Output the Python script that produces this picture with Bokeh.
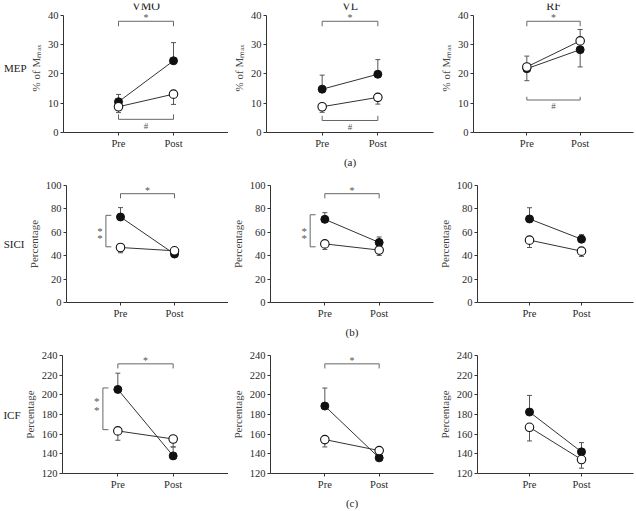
from bokeh.plotting import figure
from bokeh.models import FixedTicker, Range1d, LinearAxis
from bokeh.layouts import column, row
from bokeh.embed import file_html
from bokeh.resources import INLINE
from bokeh.core.properties import value

FONT = "Liberation Serif"

muscles = ["VMO", "VL", "RF"]
measures = ["MEP", "SICI", "ICF"]
panel_tags = ["(a)", "(b)", "(c)"]
x_pos = [0, 1]
x_labels = ["Pre", "Post"]

y_ticks = [[0, 10, 20, 30, 40],
           [0, 20, 40, 60, 80, 100],
           [120, 140, 160, 180, 200, 220, 240]]
y_titles = ["% of Mₘₐₓ", "Percentage", "Percentage"]

# filled circles (mean) and signed one-sided error (+ up, - down), per muscle
mep_filled = [[10.5, 24.5], [14.8, 19.9], [21.8, 28.3]]
mep_filled_err = [[2.5, 6.2], [4.8, 5.0], [-4.1, -5.9]]
mep_open = [[8.8, 13.1], [8.8, 12.0], [22.4, 31.3]]
mep_open_err = [[-2.0, -3.5], [-1.9, -2.3], [3.7, 3.9]]

sici_filled = [[73.1, 41.4], [71.1, 51.3], [71.4, 54.1]]
sici_filled_err = [[8.0, -1.5], [5.7, 4.7], [9.6, 3.9]]
sici_open = [[47.0, 44.2], [50.1, 44.8], [53.3, 43.9]]
sici_open_err = [[-4.5, -2.0], [-4.8, -4.6], [-6.3, -4.5]]

icf_filled = [[205.5, 137.9], [188.6, 135.9], [182.5, 142.0]]
icf_filled_err = [[16.5, 9.0], [18.3, -2.0], [16.9, 9.4]]
icf_open = [[163.3, 155.1], [154.5, 143.3], [167.0, 134.2]]
icf_open_err = [[-9.5, -8.0], [-7.5, -2.0], [-13.9, -8.8]]

# "*" brackets between Pre and Post (row, col, bar level, tick end, star level)
star_row = [0, 0, 0, 1, 1, 2, 2]
star_col = [0, 1, 2, 0, 1, 0, 1]
star_bar_y = [38.0, 38.0, 38.0, 93.0, 93.0, 231.5, 231.5]
star_tick_y = [36.3, 36.3, 36.3, 89.0, 89.0, 226.8, 226.8]
star_text_y = [39.4, 39.4, 39.4, 95.5, 95.5, 235.0, 235.0]

# "#" brackets under MEP panels
hash_col = [0, 1, 2]
hash_bar_y = [4.5, 4.1, 11.1]
hash_tick_y = [6.2, 5.7, 12.2]
hash_text_y = [2.3, 2.0, 9.1]

# "**" side brackets at Pre (between groups)
side_row = [1, 1, 2]
side_col = [0, 1, 0]
side_top = [74.5, 75.0, 207.0]
side_bottom = [47.6, 47.6, 164.6]
side_star_y1 = [61.5, 61.5, 193.5]
side_star_y2 = [55.0, 55.0, 185.0]

means = [(mep_filled, mep_filled_err, mep_open, mep_open_err),
         (sici_filled, sici_filled_err, sici_open, sici_open_err),
         (icf_filled, icf_filled_err, icf_open, icf_open_err)]

COL_W = [228, 207, 201]
COL_BL = [62, 38, 38]
COL_BR = [0, 2, 3]
ROW_H = [170, 170, 171]
ROW_BT = [3, 15, 15]
ROW_FH = [130, 118, 118]
ROW_TOP = [44.07, 100, 240]


def txt(p, xs, ys, texts, size="11px", color="#222222", align="center", baseline="middle"):
    p.text(x=xs, y=ys, text=texts, text_font=value(FONT), text_font_size=value(size),
           text_color=color, text_align=align, text_baseline=baseline)


def err_bars(p, xs, ys, es, color="#555555"):
    x0, y0, y1 = [], [], []
    for x, y, e in zip(xs, ys, es):
        x0.append(x); y0.append(y); y1.append(y + e)
    p.segment(x0=x0, y0=y0, x1=x0, y1=y1, line_color=color, line_width=1)
    p.scatter(x=x0, y=y1, marker="dash", size=5, line_color=color, line_width=1)


def style_axis(ax):
    ax.axis_line_color = "#333333"
    ax.major_tick_line_color = "#333333"
    ax.major_tick_out = 3
    ax.major_tick_in = 0
    ax.minor_tick_line_color = None
    ax.major_label_text_font = FONT
    ax.major_label_text_font_size = "10.5px"
    ax.major_label_text_font_style = "normal"
    ax.major_label_text_color = "#2a2a2a"
    ax.major_label_standoff = 2
    ax.axis_label_text_font = FONT
    ax.axis_label_text_font_size = "11px"
    ax.axis_label_text_font_style = "normal"
    ax.axis_label_text_color = "#444444"
    ax.axis_label_standoff = 3


def make_panel(r, c):
    lo = y_ticks[r][0]
    hi = ROW_TOP[r]
    bb = ROW_H[r] - ROW_BT[r] - ROW_FH[r]
    p = figure(width=COL_W[c], height=ROW_H[r], x_range=Range1d(-1, 2),
               y_range=Range1d(lo, hi),
               output_backend="svg", toolbar_location=None,
               min_border_left=COL_BL[c], min_border_right=COL_BR[c],
               min_border_top=ROW_BT[r], min_border_bottom=bb)
    p.outline_line_color = None
    p.grid.visible = False
    p.background_fill_color = "white"
    p.border_fill_color = "white"

    p.xaxis.ticker = FixedTicker(ticks=x_pos)
    p.xaxis.major_label_overrides = {x_pos[i]: x_labels[i] for i in range(2)}
    p.yaxis.ticker = FixedTicker(ticks=y_ticks[r])
    p.yaxis.bounds = (y_ticks[r][0], y_ticks[r][-1])
    p.yaxis.axis_label = y_titles[r]
    style_axis(p.xaxis[0])
    style_axis(p.yaxis[0])
    if c == 1:
        p.xaxis.axis_label = panel_tags[r]
        p.xaxis.axis_label_text_color = "#222222"
        p.xaxis.axis_label_standoff = 4
    if c == 0:
        ax2 = LinearAxis(axis_label=measures[r], ticker=FixedTicker(ticks=[]),
                         bounds=(y_ticks[r][0], y_ticks[r][-1]),
                         axis_line_color=None, major_tick_line_color=None,
                         minor_tick_line_color=None,
                         axis_label_orientation="horizontal")
        style_axis(ax2)
        ax2.axis_line_color = None
        ax2.major_tick_line_color = None
        ax2.axis_label_text_color = "#222222"
        ax2.axis_label_standoff = 0
        p.add_layout(ax2, "left")

    filled, filled_err, opn, opn_err = means[r]
    f, fe, o, oe = filled[c], filled_err[c], opn[c], opn_err[c]

    p.line(x_pos, f, line_color="#333333", line_width=1)
    p.line(x_pos, o, line_color="#333333", line_width=1)
    err_bars(p, x_pos, f, fe)
    err_bars(p, x_pos, o, oe)
    p.scatter(x_pos, f, size=8, marker="circle", fill_color="#111111", line_color="#111111")
    p.scatter(x_pos, o, size=8.5, marker="circle", fill_color="white", line_color="#111111",
              line_width=1.1)

    bc = "#666666"
    sc = "#555555"
    for i in range(len(star_row)):
        if star_row[i] == r and star_col[i] == c:
            p.line([0, 0, 1, 1], [star_tick_y[i], star_bar_y[i], star_bar_y[i], star_tick_y[i]],
                   line_color=bc, line_width=1)
            txt(p, [0.5], [star_text_y[i]], ["*"], size="10px", color=sc)
    if r == 0:
        i = hash_col.index(c)
        p.line([0, 0, 1, 1], [hash_tick_y[i], hash_bar_y[i], hash_bar_y[i], hash_tick_y[i]],
               line_color=bc, line_width=1)
        txt(p, [0.5], [hash_text_y[i]], ["#"], size="9px", color=sc)
        txt(p, [0.5], [43.1], [muscles[c]], size="12px", color="#222222")
    for i in range(len(side_row)):
        if side_row[i] == r and side_col[i] == c:
            p.line([-0.17, -0.27, -0.27, -0.17],
                   [side_top[i], side_top[i], side_bottom[i], side_bottom[i]],
                   line_color=bc, line_width=1)
            txt(p, [-0.38, -0.38], [side_star_y1[i], side_star_y2[i]], ["*", "*"],
                size="11px", color=sc)
    return p


rows_ = []
for r in range(3):
    rows_.append(row(*[make_panel(r, c) for c in range(3)]))
layout = column(*rows_)

open("out.html", "w").write(file_html(layout, INLINE))
